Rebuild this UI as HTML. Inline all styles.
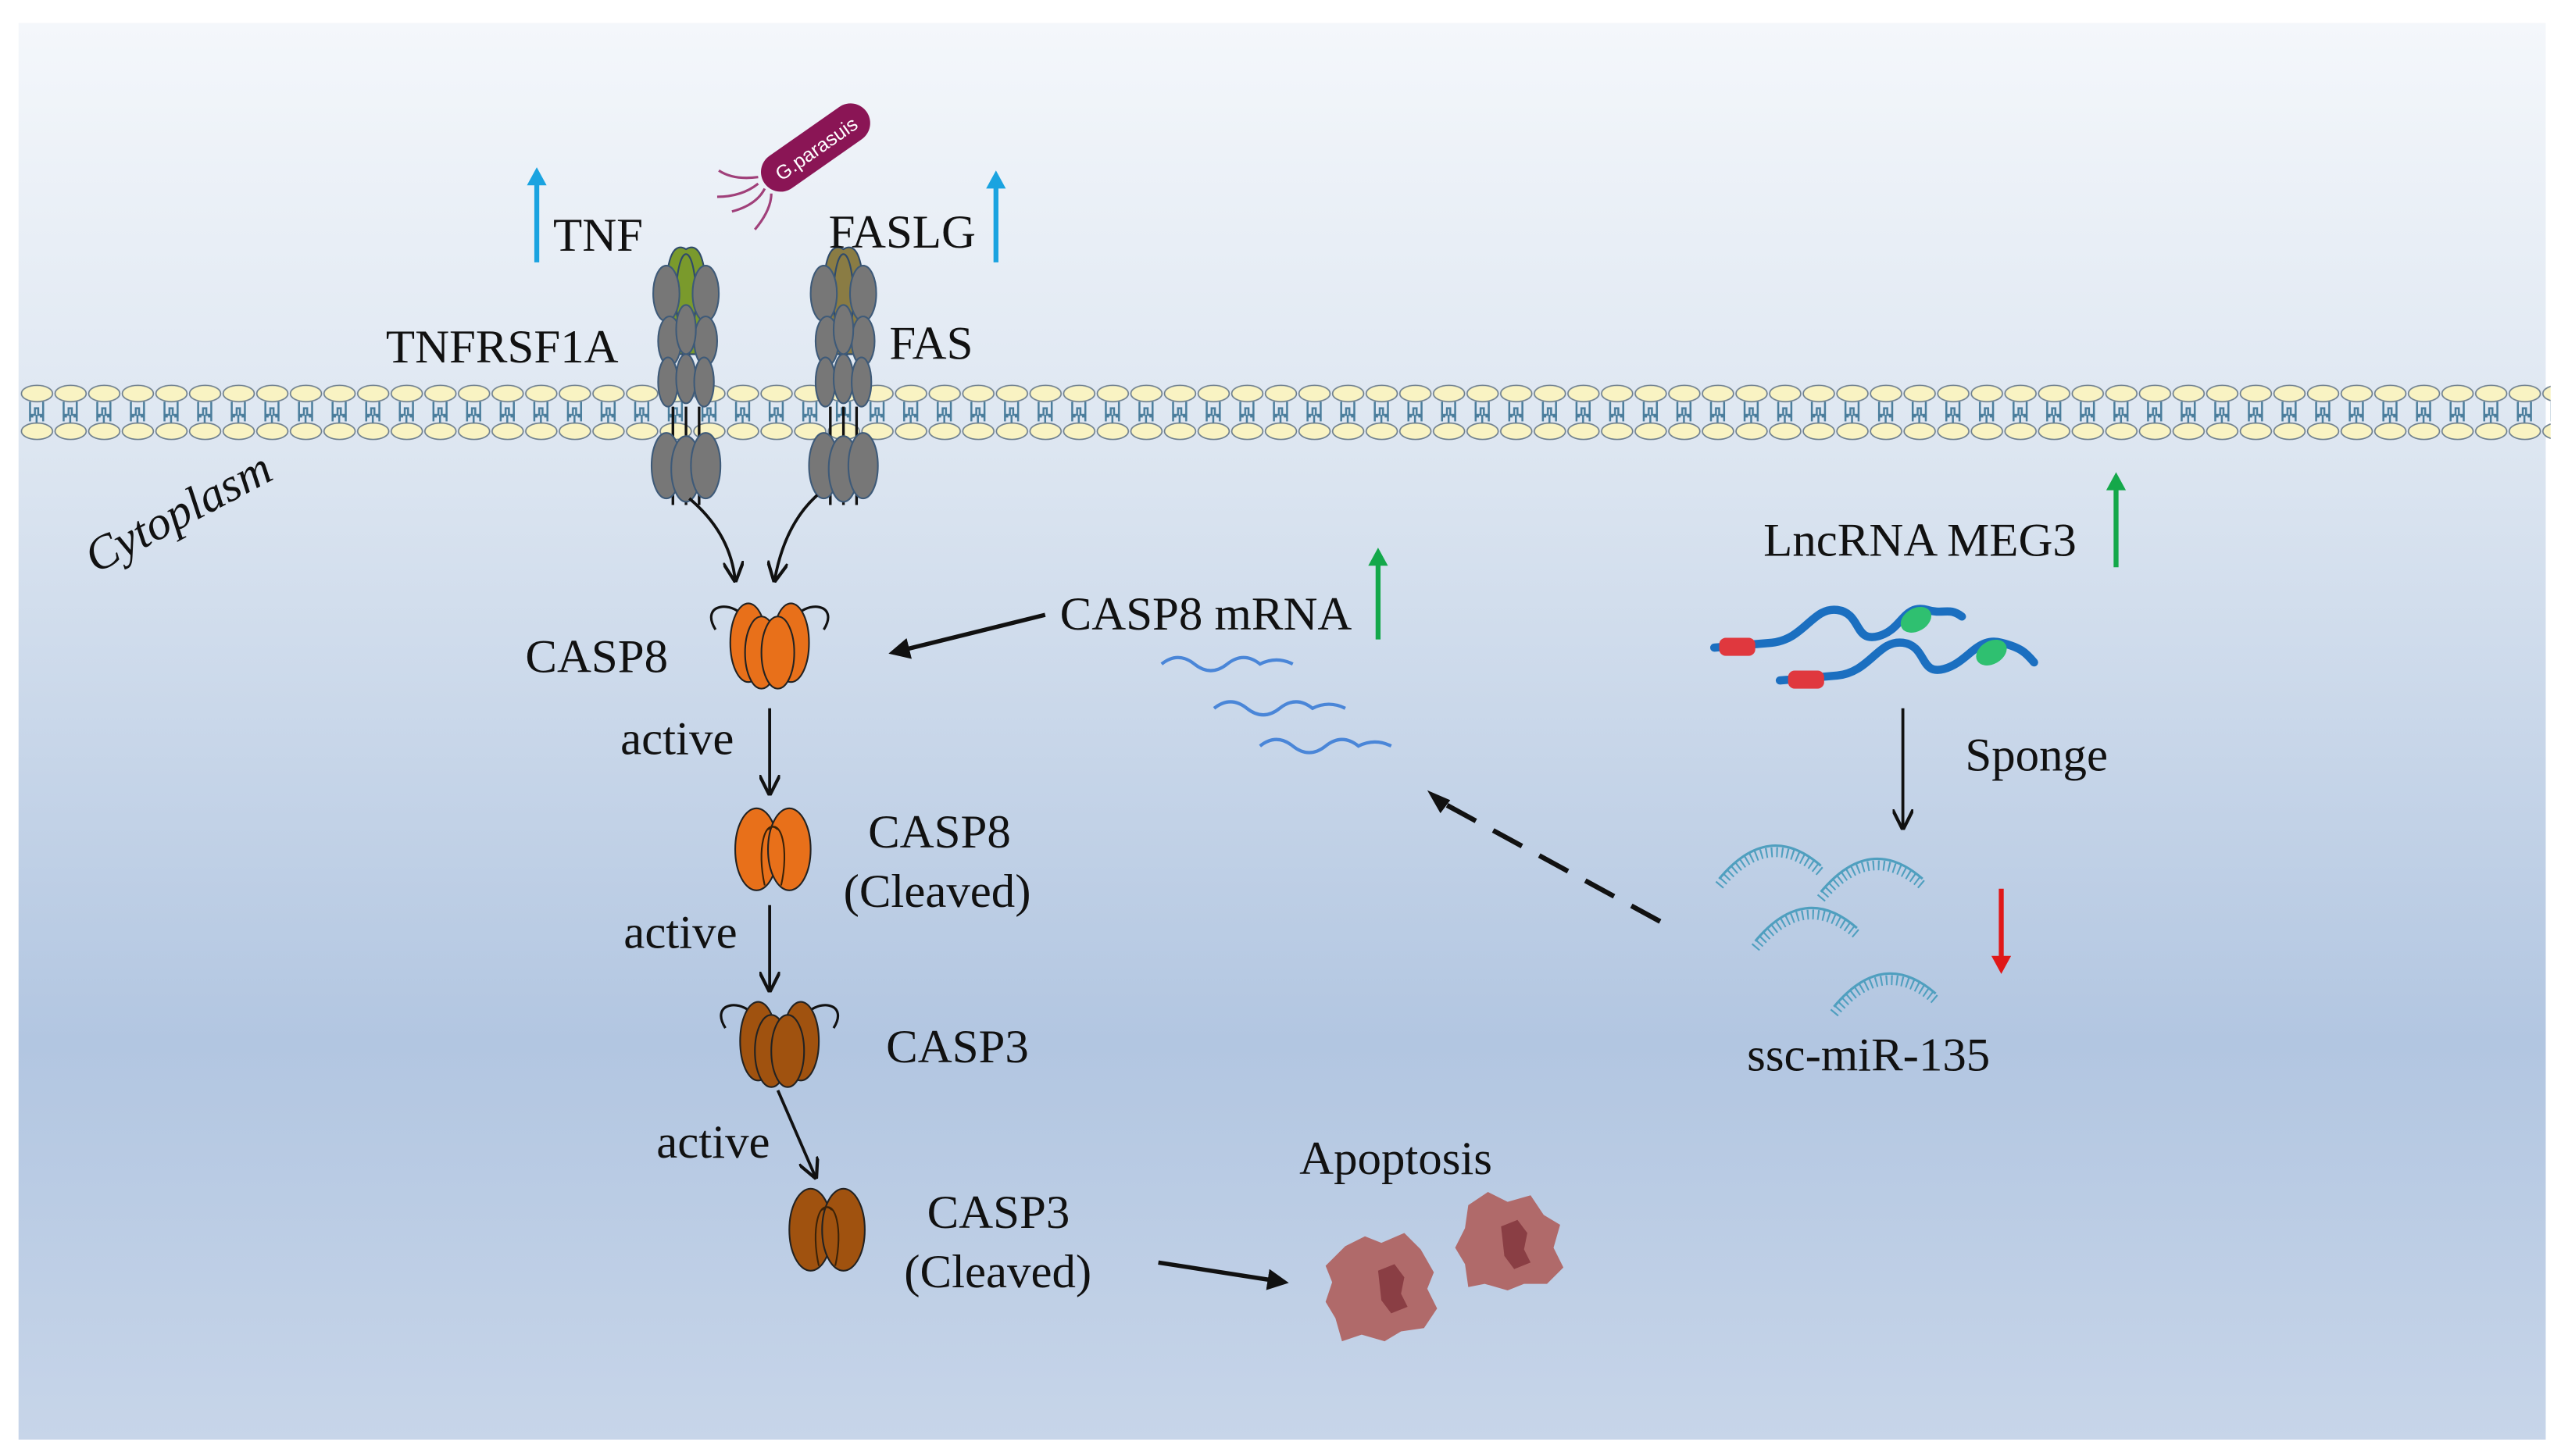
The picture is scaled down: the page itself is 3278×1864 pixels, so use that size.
<!DOCTYPE html>
<html><head><meta charset="utf-8"><style>
html,body{margin:0;padding:0;background:#fff;}
svg{display:block;}
text{font-family:"Liberation Serif",serif;fill:#111;}
</style></head><body>
<svg width="3278" height="1864" viewBox="0 0 1561 888" xmlns="http://www.w3.org/2000/svg">
<defs>
<linearGradient id="bg" x1="0" y1="0" x2="0" y2="1">
<stop offset="0" stop-color="#f4f7fb"/>
<stop offset="0.3" stop-color="#dde6f1"/>
<stop offset="0.72" stop-color="#b2c6e1"/>
<stop offset="1" stop-color="#c7d5e9"/>
</linearGradient>
<pattern id="mem" x="12" y="230" width="20.5" height="42" patternUnits="userSpaceOnUse">
<path d="M6 15 v8 h3 v-4 h2 v4 h3 v-8 M6 27 v-3 h2 M14 27 v-3 h-2 M10 23 v5" stroke="#4a7d9c" stroke-width="1.2" fill="none"/>
<ellipse cx="10.25" cy="10" rx="9.5" ry="5" fill="#f9f3c3" stroke="#6e7f8e" stroke-width="0.8"/>
<ellipse cx="10.25" cy="33" rx="9.5" ry="5" fill="#f9f3c3" stroke="#6e7f8e" stroke-width="0.8"/>
</pattern>
<marker id="ah" viewBox="0 0 10 10" refX="9" refY="5" markerWidth="7" markerHeight="7" orient="auto"><path d="M0 0 L10 5 L0 10" fill="none" stroke="#111" stroke-width="1.6"/></marker>
<marker id="af" viewBox="0 0 10 10" refX="8" refY="5" markerWidth="5" markerHeight="5" orient="auto"><path d="M0 0 L10 5 L0 10 z" fill="#111"/></marker>
<g id="casp"><path d="M-33 -8 C-43 -24 -22 -27 -13 -13 M33 -8 C43 -24 22 -27 13 -13" stroke="#111" stroke-width="1.5" fill="none"/>
<ellipse cx="-13" cy="0" rx="11" ry="24"/><ellipse cx="13" cy="0" rx="11" ry="24"/><ellipse cx="-5" cy="6" rx="10" ry="22"/><ellipse cx="5" cy="6" rx="10" ry="22"/></g>
<g id="casp2"><ellipse cx="-10" cy="0" rx="13" ry="25"/><ellipse cx="10" cy="0" rx="13" ry="25"/><path d="M-3 -12 C5 -20 10 0 5 22 M3 -12 C-5 -20 -10 0 -5 22" fill="none" stroke="#3b2208" stroke-width="1"/></g>
<g id="rcp" stroke="#3e5a78" stroke-width="1"><ellipse cx="-12" cy="3" rx="8" ry="17" fill="#777"/><ellipse cx="12" cy="3" rx="8" ry="17" fill="#777"/>
<ellipse cx="-10" cy="32" rx="7" ry="15" fill="#777"/><ellipse cx="12" cy="32" rx="7" ry="15" fill="#777"/>
<ellipse cx="-11" cy="57" rx="6" ry="15" fill="#777"/><ellipse cx="0" cy="55" rx="6" ry="15" fill="#777"/><ellipse cx="11" cy="57" rx="6" ry="15" fill="#777"/>
<ellipse cx="0" cy="25" rx="6" ry="15" fill="#777"/>
<path d="M-8 72 v60 M0 72 v60 M8 72 v60" stroke="#111" stroke-width="1.6"/>
<ellipse cx="-12" cy="108" rx="9" ry="20" fill="#777"/><ellipse cx="0" cy="110" rx="9" ry="20" fill="#777"/><ellipse cx="12" cy="108" rx="9" ry="20" fill="#777"/></g>
<g id="mir"><path d="M0 26 Q30 -10 62 18" fill="none" stroke="#4f9fbf" stroke-width="6" stroke-dasharray="1 2.2"/><path d="M0 22 Q30 -14 62 14" fill="none" stroke="#4f9fbf" stroke-width="1.5"/></g>
</defs>
<rect width="1561" height="888" fill="#fff"/>
<rect x="11" y="14" width="1541" height="864" fill="url(#bg)"/>
<rect x="12" y="230" width="1543" height="42" fill="url(#mem)"/>

<!-- receptors -->
<g transform="translate(418,176)"><path d="M-12 -4 Q-10 -30 0 -24 Q10 -30 12 -4 L10 40 L-10 40 Z" fill="#7a9a2c" stroke="#2f4a6a"/><ellipse cx="0" cy="5" rx="6" ry="26" fill="#7a9a2c" stroke="#2f4a6a"/><use href="#rcp"/></g>
<g transform="translate(514,176)"><path d="M-12 -4 Q-10 -30 0 -24 Q10 -30 12 -4 L10 40 L-10 40 Z" fill="#8a7c44" stroke="#2f4a6a"/><ellipse cx="0" cy="5" rx="6" ry="26" fill="#8a7c44" stroke="#2f4a6a"/><use href="#rcp"/></g>

<!-- bacterium -->
<g transform="translate(497,90) rotate(-35)"><rect x="-38" y="-12" width="76" height="24" rx="12" fill="#8a1555"/><text x="0" y="5" font-size="12" text-anchor="middle" style="fill:#fff;font-family:'Liberation Sans',sans-serif">G.parasuis</text></g>
<path d="M462 108 q-15 2 -24 -4 M462 112 q-10 8 -25 8 M466 115 q-5 10 -20 14 M470 118 q0 10 -10 22" stroke="#a0407a" stroke-width="1.5" fill="none"/>

<!-- up arrows -->
<g stroke-width="3" fill="none"><path d="M327 160 V110" stroke="#1aa3e0"/><path d="M607 160 V112" stroke="#1aa3e0"/><path d="M840 390 V342" stroke="#14a84a"/><path d="M1290 346 V296" stroke="#14a84a"/><path d="M1220 542 V586" stroke="#e01818"/></g>
<path d="M321 113 L327 102 L333 113 Z" fill="#1aa3e0"/><path d="M601 115 L607 104 L613 115 Z" fill="#1aa3e0"/><path d="M834 345 L840 334 L846 345 Z" fill="#14a84a"/><path d="M1284 299 L1290 288 L1296 299 Z" fill="#14a84a"/><path d="M1214 583 L1220 594 L1226 583 Z" fill="#e01818"/>

<!-- caspases -->
<g fill="#e8701a" stroke="#222" stroke-width="1"><use href="#casp" x="469" y="392"/></g>
<g fill="#e8701a" stroke="#222" stroke-width="1"><use href="#casp2" x="471" y="518"/></g>
<g fill="#a0520f" stroke="#222" stroke-width="1"><use href="#casp" x="475" y="635"/></g>
<g fill="#a0520f" stroke="#222" stroke-width="1"><use href="#casp2" x="504" y="750"/></g>

<!-- arrows -->
<g stroke="#111" stroke-width="1.8" fill="none" marker-end="url(#ah)">
<path d="M420 304 Q445 325 448 354"/><path d="M498 302 Q478 320 472 354"/>
<path d="M469 432 V484"/><path d="M469 552 V604"/><path d="M474 665 L497 718"/>
<path d="M1160 432 V505"/>
</g>
<g stroke="#111" stroke-width="2.6" fill="none" marker-end="url(#af)">
<path d="M637 375 L544 398"/><path d="M706 770 L783 782"/>
</g>
<path d="M1012 562 L880 490" stroke="#111" stroke-width="3" stroke-dasharray="20 12" fill="none"/>
<path d="M884 488 L870 482 L878 496 Z" fill="#111"/>

<!-- mRNA waves -->
<g stroke="#4a86d8" stroke-width="2" fill="none">
<path d="M708 405 q10 -8 20 0 t20 0 t20 0 q10 -5 20 0"/>
<path d="M740 432 q10 -8 20 0 t20 0 t20 0 q10 -5 20 0"/>
<path d="M768 455 q10 -8 20 0 t20 0 t20 0 q10 -5 20 0"/>
</g>

<!-- lncRNA -->
<g fill="none" stroke-linecap="round">
<path d="M1045 395 L1080 392 C1100 390 1105 370 1120 372 C1135 374 1130 392 1145 388 C1160 384 1160 368 1175 372 C1185 375 1188 370 1196 376" stroke="#1b6fc0" stroke-width="5"/>
<path d="M1085 415 L1120 412 C1140 410 1145 390 1160 392 C1175 394 1170 412 1185 408 C1200 404 1205 388 1220 392 C1232 395 1235 398 1240 404" stroke="#1b6fc0" stroke-width="5"/>
</g>
<rect x="1048" y="389" width="22" height="11" rx="4" fill="#e0383e"/><rect x="1090" y="409" width="22" height="11" rx="4" fill="#e0383e"/>
<ellipse cx="1168" cy="378" rx="10" ry="7" fill="#2fc070" transform="rotate(-30 1168 378)"/><ellipse cx="1214" cy="398" rx="10" ry="7" fill="#2fc070" transform="rotate(-30 1214 398)"/>

<!-- miRNAs -->
<use href="#mir" x="1048" y="514"/><use href="#mir" x="1110" y="522"/><use href="#mir" x="1070" y="552"/><use href="#mir" x="1118" y="592"/>

<!-- apoptotic cells -->
<g fill="#b06a6a"><path d="M820 760 l12 -6 l10 4 l14 -6 l10 10 l8 14 l-4 10 l6 12 l-8 12 l-14 2 l-10 6 l-14 -4 l-12 4 l-4 -14 l-6 -10 l4 -12 l-4 -10 z"/>
<path d="M895 735 l12 -8 l12 6 l14 -4 l8 12 l10 6 l-4 14 l6 12 l-10 10 l-14 0 l-10 4 l-14 -4 l-10 2 l-2 -14 l-6 -10 l6 -12 z"/></g>
<g fill="#8a3e44"><path d="M840 775 l10 -4 l6 8 l-2 10 l4 8 l-10 4 l-6 -8 z"/><path d="M915 748 l10 -4 l6 8 l-2 10 l4 8 l-10 4 l-6 -8 z"/></g>

<!-- labels -->
<g font-size="29">
<text x="337" y="153">TNF</text><text x="505" y="151">FASLG</text>
<text x="235" y="221">TNFRSF1A</text><text x="542" y="219">FAS</text>
<text x="58" y="350" transform="rotate(-28 58 350)" font-style="italic">Cytoplasm</text>
<text x="320" y="410">CASP8</text><text x="378" y="460">active</text>
<text x="529" y="517">CASP8</text><text x="514" y="553">(Cleaved)</text>
<text x="380" y="578">active</text><text x="540" y="648">CASP3</text>
<text x="400" y="706">active</text>
<text x="565" y="749">CASP3</text><text x="551" y="785">(Cleaved)</text>
<text x="792" y="716">Apoptosis</text>
<text x="646" y="384">CASP8 mRNA</text>
<text x="1075" y="339">LncRNA MEG3</text>
<text x="1198" y="470">Sponge</text>
<text x="1065" y="653">ssc-miR-135</text>
</g>
</svg>
</body></html>
